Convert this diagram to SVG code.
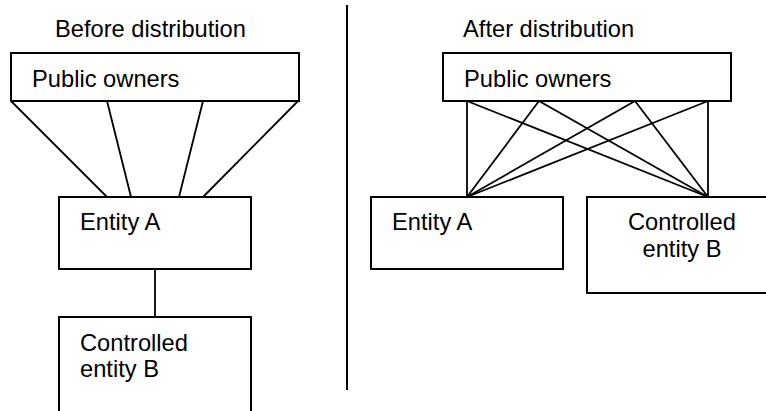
<svg xmlns="http://www.w3.org/2000/svg" width="766" height="411" viewBox="0 0 766 411">
  <style>
    .box { fill: #ffffff; stroke: #000000; stroke-width: 2; }
    .link { stroke: #000000; stroke-width: 1.8; fill: none; }
    .label { font-family: "Liberation Sans", Arial, sans-serif; font-size: 23.7px; fill: #000000; }
  </style>
  <rect width="766" height="411" fill="#ffffff"/>

  <!-- headings -->
  <text class="label" x="55" y="37">Before distribution</text>
  <text class="label" x="463" y="37">After distribution</text>

  <!-- divider between the two situations -->
  <line x1="347" y1="5" x2="347" y2="390" stroke="#000000" stroke-width="2"/>

  <!-- connectors -->
  <g id="connectors">
    <!-- before: owners to entity A -->
    <line class="link" x1="11" y1="101" x2="107" y2="197"/>
    <line class="link" x1="107" y1="101" x2="131" y2="197"/>
    <line class="link" x1="203" y1="101" x2="179" y2="197"/>
    <line class="link" x1="298" y1="101" x2="203" y2="197"/>
    <!-- before: entity A to controlled entity B -->
    <line class="link" x1="155" y1="269" x2="155" y2="317"/>
    <!-- after: owners to entity A -->
    <line class="link" x1="467" y1="101" x2="467" y2="197"/>
    <line class="link" x1="539" y1="101" x2="467" y2="197"/>
    <line class="link" x1="635" y1="101" x2="467" y2="197"/>
    <line class="link" x1="708" y1="101" x2="467" y2="197"/>
    <!-- after: owners to controlled entity B -->
    <line class="link" x1="467" y1="101" x2="708" y2="197"/>
    <line class="link" x1="539" y1="101" x2="708" y2="197"/>
    <line class="link" x1="635" y1="101" x2="708" y2="197"/>
    <line class="link" x1="708" y1="101" x2="708" y2="197"/>
  </g>

  <!-- before distribution -->
  <g id="before-owners">
    <rect class="box" x="11" y="53" width="288" height="48"/>
    <text class="label" x="32" y="87">Public owners</text>
  </g>
  <g id="before-entity-a">
    <rect class="box" x="59" y="197" width="192" height="72"/>
    <text class="label" x="80" y="230">Entity A</text>
  </g>
  <g id="before-entity-b">
    <rect class="box" x="59" y="317" width="192" height="120"/>
    <text class="label" x="80" y="351">Controlled</text>
    <text class="label" x="80" y="377">entity B</text>
  </g>

  <!-- after distribution -->
  <g id="after-owners">
    <rect class="box" x="443" y="53" width="288" height="48"/>
    <text class="label" x="464" y="87">Public owners</text>
  </g>
  <g id="after-entity-a">
    <rect class="box" x="371" y="197" width="192" height="72"/>
    <text class="label" x="392" y="230">Entity A</text>
  </g>
  <g id="after-entity-b">
    <rect class="box" x="587" y="197" width="200" height="96"/>
    <text class="label" x="682" y="230" text-anchor="middle">Controlled</text>
    <text class="label" x="682" y="257" text-anchor="middle">entity B</text>
  </g>
</svg>
